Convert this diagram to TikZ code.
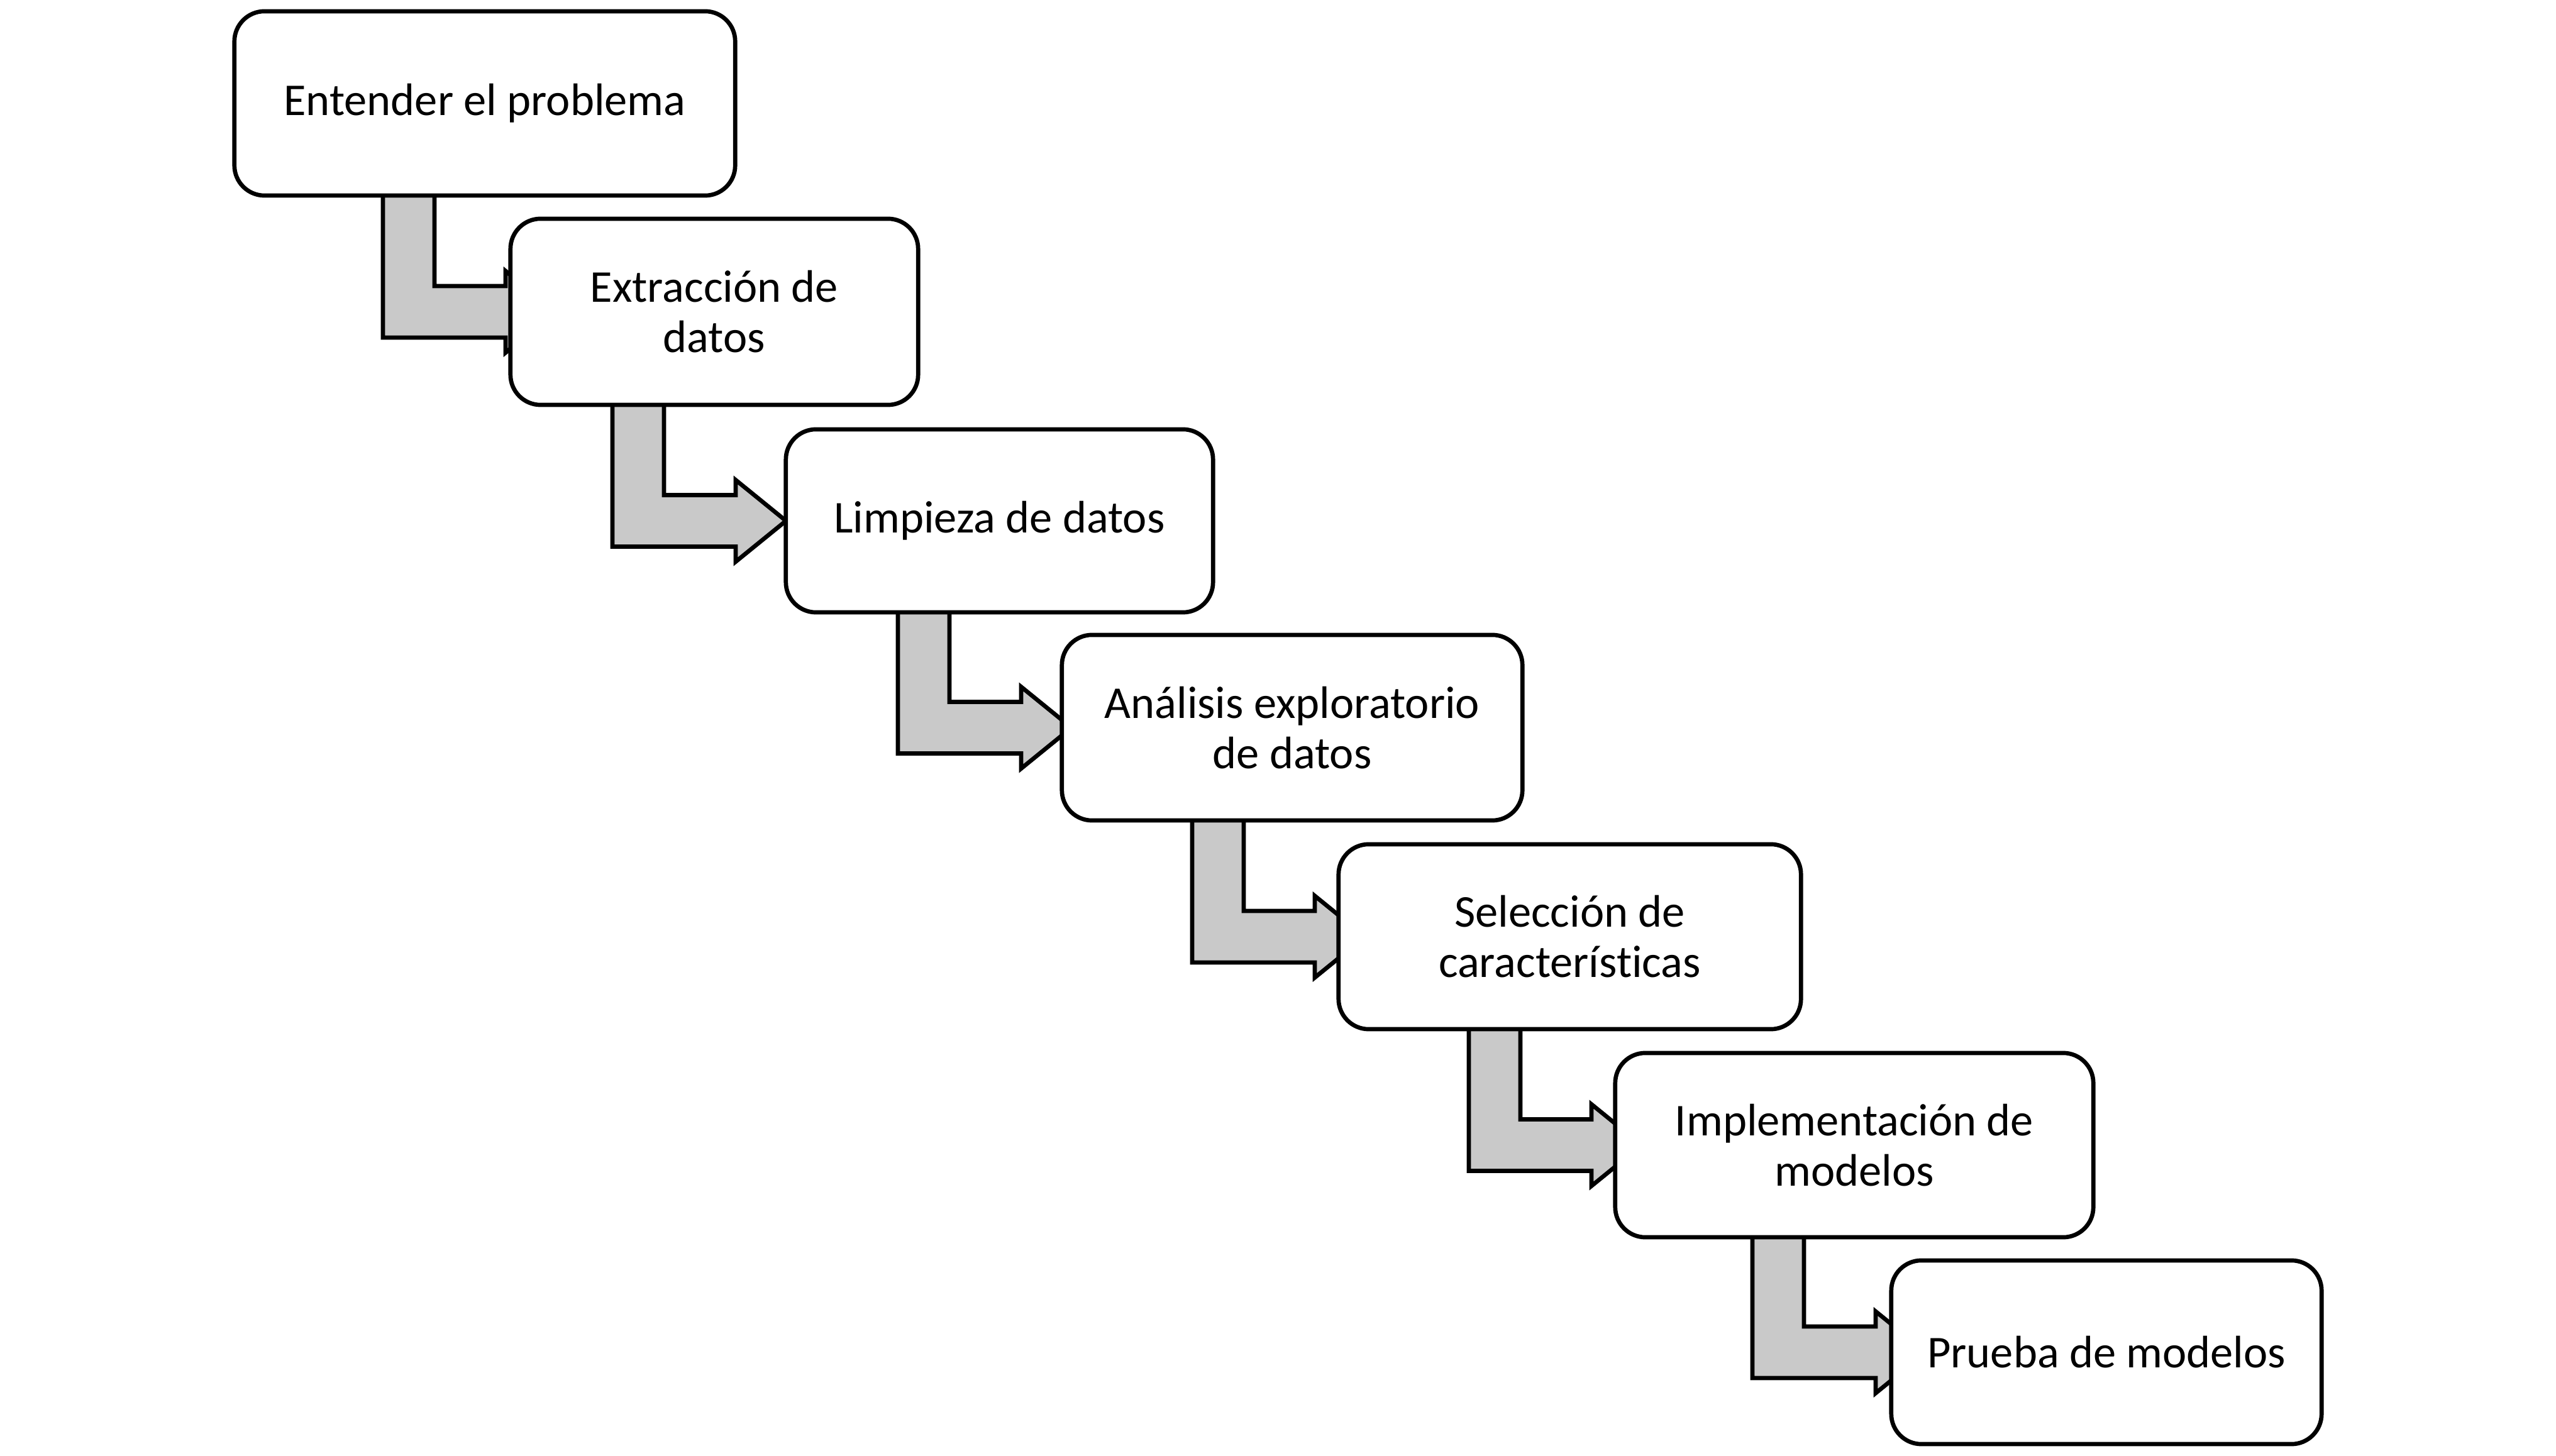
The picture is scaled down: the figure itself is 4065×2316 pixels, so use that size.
\documentclass[tikz,border=0pt]{standalone}
\usepackage{fontspec}
\setmainfont{Carlito}[Ligatures=NoCommon]
\usetikzlibrary{calc}
\definecolor{arrowgray}{RGB}{201,201,201}
\pgfdeclarelayer{background}
\pgfsetlayers{background,main}
\tikzset{
  stepbox/.style={draw=black, fill=white, line width=0.067cm, rounded corners=0.48cm,
    align=center, inner sep=0pt, font=\fontsize{20.6}{22.8}\selectfont},
  arrowshape/.style={draw=black, fill=arrowgray, line width=0.067cm, line join=miter}
}
% #1 from node, #2 to node, #3 shaft left x, #4 head base x
\newcommand\stepconn[4]{%
  \coordinate (sl) at (#3,0);
  \coordinate (sr) at (#3+82,0);
  \coordinate (hb) at (#4,0);
  \coordinate (ht) at (#4+80,0);
  \draw[arrowshape]
    ($(sl |- #1.south)+(0,-30)$) -- ($(sl |- #2.west)+(0,41)$)
    -- ($(hb |- #2.west)+(0,41)$) -- ($(hb |- #2.west)+(0,65)$)
    -- (ht |- #2.west)
    -- ($(hb |- #2.west)+(0,-65)$) -- ($(hb |- #2.west)+(0,-41)$)
    -- ($(sr |- #2.west)+(0,-41)$) -- ($(sr |- #1.south)+(0,-30)$) -- cycle;
}
\begin{document}
\begin{tikzpicture}[x=0.01cm,y=-0.01cm]
\useasboundingbox (0,0) rectangle (4065,2316);
% boxes
\path
  (771,164.5)   node[stepbox, minimum width=7.96cm, minimum height=2.93cm] (b1) {Entender el problema}
  (1136,496)    node[stepbox, minimum width=6.48cm, minimum height=2.96cm] (b2) {Extracción de\\datos}
  (1589.5,828.5) node[stepbox, minimum width=6.79cm, minimum height=2.91cm] (b3) {Limpieza de datos}
  (2055,1157.5) node[stepbox, minimum width=7.32cm, minimum height=2.95cm] (b4) {Análisis exploratorio\\de datos}
  (2496.5,1490) node[stepbox, minimum width=7.35cm, minimum height=2.94cm] (b5) {Selección de\\características}
  (2949,1821.5) node[stepbox, minimum width=7.60cm, minimum height=2.93cm] (b6) {Implementación de\\modelos}
  (3350,2151)   node[stepbox, minimum width=6.84cm, minimum height=2.92cm] (b7) {Prueba de modelos};
% arrows behind the boxes
\begin{pgfonlayer}{background}
\stepconn{b1}{b2}{609}{804}
\stepconn{b2}{b3}{974}{1170}
\stepconn{b3}{b4}{1428}{1624}
\stepconn{b4}{b5}{1896}{2091}
\stepconn{b5}{b6}{2336}{2531}
\stepconn{b6}{b7}{2787}{2983}
\end{pgfonlayer}
\end{tikzpicture}
\end{document}
